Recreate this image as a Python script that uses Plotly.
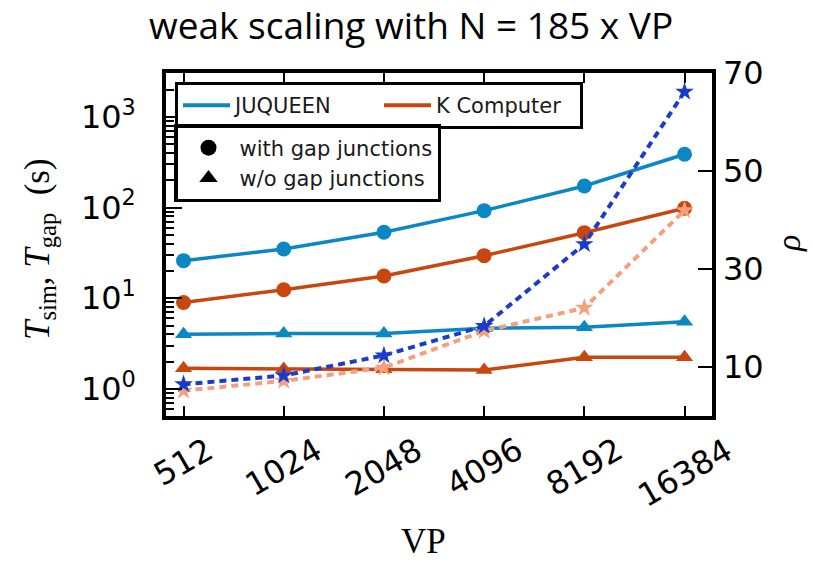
import numpy as np
import plotly.graph_objects as go

# ---- data -------------------------------------------------------------
vp = [512, 1024, 2048, 4096, 8192, 16384]
vp_labels = ["512", "1024", "2048", "4096", "8192", "16384"]

# simulation time (s), with gap junctions
t_juqueen_gap = [26.0, 35.0, 53.4, 92.5, 173.0, 387.0]
t_k_gap = [9.0, 12.4, 17.6, 29.5, 52.9, 98.3]
# simulation time (s), without gap junctions
t_juqueen_nogap = [4.0, 4.1, 4.1, 4.67, 4.8, 5.5]
t_k_nogap = [1.69, 1.66, 1.65, 1.62, 2.24, 2.24]
# ratio rho (right axis)
rho_juqueen = [6.5, 8.3, 12.4, 18.4, 35.1, 66.2]
rho_k = [5.2, 7.2, 9.9, 17.4, 22.1, 42.0]

y_tickvals = [1, 10, 100, 1000]
y_ticktext = ["10<sup>0</sup>", "10<sup>1</sup>", "10<sup>2</sup>", "10<sup>3</sup>"]
rho_tickvals = [10, 30, 50, 70]

# ---- style ------------------------------------------------------------
C_JUQ = "#0a87c4"
C_K = "#c8470e"
C_RHO_JUQ = "#1a3cc8"
C_RHO_K = "#f5a07c"
TICK_FONT = dict(family="DejaVu Sans", size=32, color="black")
LEGEND_FONT = dict(family="DejaVu Sans", size=21, color="#1a1a1a")
SERIF = "Liberation Serif"

W, H = 813, 563
L, R, T, B = 166, 712, 73, 416          # inner plot area in pixels
PW, PH = R - L, B - T


def px_x(px):
    return (px - L) / PW


def px_y(py):
    return (B - py) / PH


fig = go.Figure()

# solid series (left axis)
for yv, col, sym in [
    (t_juqueen_gap, C_JUQ, "circle"),
    (t_k_gap, C_K, "circle"),
    (t_juqueen_nogap, C_JUQ, "triangle-up"),
    (t_k_nogap, C_K, "triangle-up"),
]:
    fig.add_trace(go.Scatter(
        x=vp, y=yv, mode="lines+markers",
        line=dict(color=col, width=3.5),
        marker=dict(symbol=sym, size=15, color=col, line=dict(width=0)),
        showlegend=False, yaxis="y", cliponaxis=False,
    ))

# rho series (right axis), dashed with stars
for yv, col in [(rho_k, C_RHO_K), (rho_juqueen, C_RHO_JUQ)]:
    fig.add_trace(go.Scatter(
        x=vp, y=yv, mode="lines+markers",
        line=dict(color=col, width=4, dash="7px,5px"),
        marker=dict(symbol="star", size=14, color=col, line=dict(width=0)),
        showlegend=False, yaxis="y2", cliponaxis=False,
    ))

# legend entries: machines
for name, col in [("JUQUEEN", C_JUQ), ("K Computer", C_K)]:
    fig.add_trace(go.Scatter(
        x=[None], y=[None], mode="lines", name=name,
        line=dict(color=col, width=4), legend="legend",
    ))
# legend entries: marker meaning
for name, sym, grp in [("with gap junctions", "circle", "g1"),
                       ("w/o gap junctions", "triangle-up", "g2")]:
    fig.add_trace(go.Scatter(
        x=[None], y=[None], mode="markers", name=name,
        marker=dict(symbol=sym, size=16, color="black"),
        legend="legend2", legendgroup=grp,
    ))

annotations = []
# rotated x tick labels, centred on the ticks
for v, lab in zip(vp, vp_labels):
    annotations.append(dict(
        x=np.log10(v), xref="x", y=px_y(428), yref="paper",
        xanchor="center", yanchor="top", text=lab, textangle=-30,
        showarrow=False, font=TICK_FONT,
    ))
# axis titles
annotations.append(dict(
    x=px_x(39), y=px_y(249), xref="paper", yref="paper",
    xanchor="center", yanchor="middle",
    text="<i>T</i><sub>sim</sub>, <i>T</i><sub>gap</sub>&nbsp;&nbsp;(s)",
    textangle=-90, showarrow=False,
    font=dict(family=SERIF, size=35, color="black"),
))
annotations.append(dict(
    x=px_x(789), y=px_y(244), xref="paper", yref="paper",
    xanchor="center", yanchor="middle",
    text="<i>ρ</i>", textangle=-90, showarrow=False,
    font=dict(family=SERIF, size=34, color="black"),
))
annotations.append(dict(
    x=px_x(423), y=px_y(541), xref="paper", yref="paper",
    xanchor="center", yanchor="middle",
    text="VP", showarrow=False,
    font=dict(family=SERIF, size=35, color="black"),
))
# title
annotations.append(dict(
    x=px_x(411), y=px_y(24), xref="paper", yref="paper",
    xanchor="center", yanchor="middle",
    text="weak scaling with N = 185 x VP", showarrow=False,
    font=dict(family="Open Sans", size=37, color="black"),
))

oct_lo, oct_hi = 8.825, 14.274
fig.update_layout(
    width=W, height=H, autosize=False,
    margin=dict(l=L, r=W - R, t=T, b=H - B, pad=0),
    paper_bgcolor="white", plot_bgcolor="white",
    xaxis=dict(
        type="log", range=[oct_lo * np.log10(2), oct_hi * np.log10(2)],
        tickmode="array", tickvals=vp, showticklabels=False,
        ticks="inside", ticklen=10, tickwidth=1.5, tickcolor="black",
        showline=True, linewidth=3.5, linecolor="black", mirror="ticks",
        showgrid=False, zeroline=False,
    ),
    yaxis=dict(
        type="log", range=[-0.298, 3.484],
        tickmode="array", tickvals=y_tickvals, ticktext=y_ticktext,
        ticks="inside", ticklen=16, tickwidth=1.5, tickcolor="black",
        tickfont=TICK_FONT, ticklabelstandoff=20,
        minor=dict(ticks="inside", ticklen=8, tickwidth=1.5,
                   tickcolor="black", dtick="D1", showgrid=False),
        showline=True, linewidth=3.5, linecolor="black", mirror=True,
        showgrid=False, zeroline=False,
    ),
    yaxis2=dict(
        overlaying="y", side="right", range=[0.04, 70.02],
        tickmode="array", tickvals=rho_tickvals,
        ticks="inside", ticklen=14, tickwidth=1.5, tickcolor="black",
        tickfont=TICK_FONT, ticklabelstandoff=10,
        showline=False, showgrid=False, zeroline=False,
    ),
    legend=dict(
        x=px_x(175), y=px_y(82), xanchor="left", yanchor="top",
        orientation="h", bgcolor="white", bordercolor="black", borderwidth=3,
        font=LEGEND_FONT,
        itemwidth=47, entrywidth=139, entrywidthmode="pixels",
    ),
    legend2=dict(
        x=px_x(174), y=px_y(124), xanchor="left", yanchor="top",
        orientation="v", bgcolor="white", bordercolor="black", borderwidth=3.5,
        font=LEGEND_FONT, itemwidth=52,
        tracegroupgap=0,
    ),
    annotations=annotations,
)

fig.write_html("out.html")
